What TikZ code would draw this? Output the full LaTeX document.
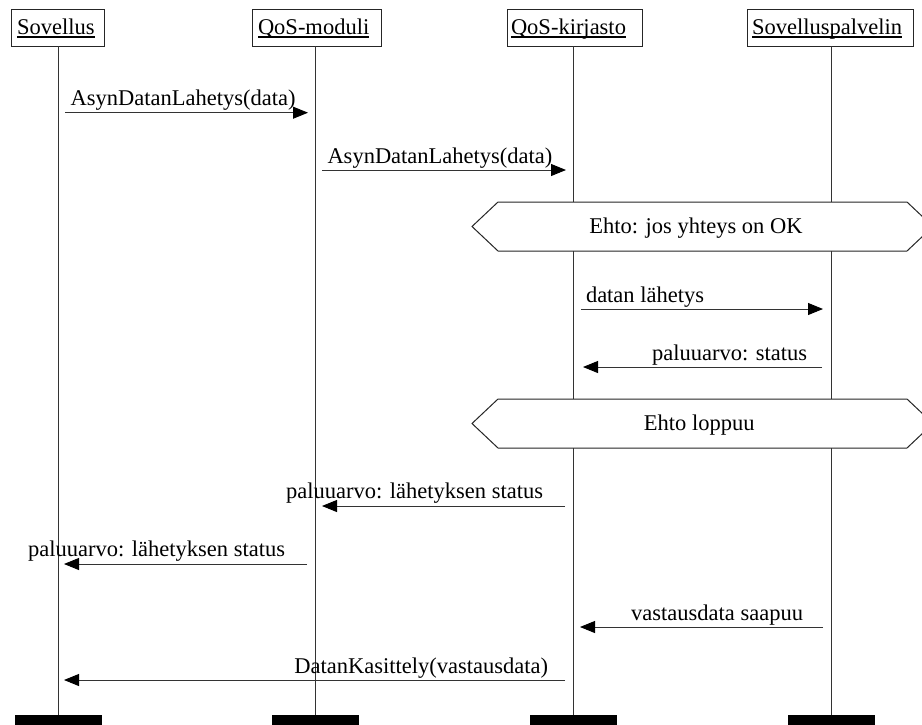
\documentclass[tikz,border=0pt]{standalone}
\usepackage{fontspec}
\setmainfont{Liberation Serif}
\usetikzlibrary{arrows.meta}
\begin{document}
\begin{tikzpicture}[x=1pt,y=-1pt,
  every node/.style={font=\fontsize{22.5}{26}\selectfont, inner sep=0pt, outer sep=0pt},
  hdrbox/.style={draw=black!85, line width=1pt, fill=white, anchor=north west, minimum height=37pt},
  hdrtxt/.style={anchor=base west},
  uline/.style={line width=1.2pt, black},
  life/.style={line width=0.9pt, black!80},
  msg/.style={line width=0.9pt, black!80, -{Triangle[length=15pt,width=12pt,black]}},
  rlbl/.style={anchor=base west},
  llbl/.style={anchor=base east},
  cond/.style={draw=black!85, line width=1pt, fill=white},
  endbar/.style={fill=black, draw=none, anchor=north, minimum width=87pt, minimum height=12pt}
]
\useasboundingbox (0,0) rectangle (922,724);

% header boxes
\node[hdrbox, minimum width=93pt]  (sovbox) at (11,9) {};
\node[hdrbox, minimum width=129pt] (modbox) at (252,9) {};
\node[hdrbox, minimum width=135pt] (kirbox) at (507,9) {};
\node[hdrbox, minimum width=166pt] (palbox) at (747,9) {};
\node[hdrtxt] (sovtxt) at (17,34.3) {Sovellus};
\node[hdrtxt] (modtxt) at (258,34.3) {QoS-moduli};
\node[hdrtxt] (kirtxt) at (511,34.3) {QoS-kirjasto};
\node[hdrtxt] (paltxt) at (752,34.3) {Sovelluspalvelin};
\foreach \t in {sovtxt,modtxt,kirtxt,paltxt}
  \draw[uline] ([yshift=-2.6pt]\t.base west) -- ([yshift=-2.6pt]\t.base east);

% end bars
\node[endbar] (sovend) at (58,715) {};
\node[endbar] (modend) at (315.5,715) {};
\node[endbar] (kirend) at (573.5,715) {};
\node[endbar] (palend) at (831.5,715) {};

% lifelines
\draw[life] (sovbox.south -| sovend.north) -- (sovend.north);
\draw[life] (modbox.south -| modend.north) -- (modend.north);
\draw[life] (kirbox.south -| kirend.north) -- (kirend.north);
\draw[life] (palbox.south -| palend.north) -- (palend.north);

% conditions
\draw[cond] (472,226.5) -- (498,202) -- (907,202) -- (933,226.5) -- (907,251) -- (498,251) -- cycle;
\node[anchor=base] (cond1) at (696,233.3) {Ehto: jos yhteys on OK};
\draw[cond] (472,423.5) -- (498,399) -- (907,399) -- (933,423.5) -- (907,448) -- (498,448) -- cycle;
\node[anchor=base] (cond2) at (699.3,430.7) {Ehto loppuu};

% messages
\coordinate (m1s) at (65,112.7);  \coordinate (m1e) at (308,112.7);
\draw[msg] (m1s) -- (m1e);
\node[rlbl] (m1l) at (70.7,105.5) {AsynDatanLahetys(data)};

\coordinate (m2s) at (322,170);   \coordinate (m2e) at (566,170);
\draw[msg] (m2s) -- (m2e);
\node[rlbl] (m2l) at (327.5,163) {AsynDatanLahetys(data)};

\coordinate (m3s) at (581,309);   \coordinate (m3e) at (823,309);
\draw[msg] (m3s) -- (m3e);
\node[rlbl] (m3l) at (586,302.3) {datan lähetys};

\coordinate (m4s) at (822,367);   \coordinate (m4e) at (583,367);
\draw[msg] (m4s) -- (m4e);
\node[llbl] (m4l) at (807,360) {paluuarvo: status};

\coordinate (m5s) at (565,506);   \coordinate (m5e) at (322,506);
\draw[msg] (m5s) -- (m5e);
\node[llbl] (m5l) at (543,498.5) {paluuarvo: lähetyksen status};

\coordinate (m6s) at (307,564);   \coordinate (m6e) at (64,564);
\draw[msg] (m6s) -- (m6e);
\node[llbl] (m6l) at (285,556.5) {paluuarvo: lähetyksen status};

\coordinate (m7s) at (823,627);   \coordinate (m7e) at (580,627);
\draw[msg] (m7s) -- (m7e);
\node[llbl] (m7l) at (803,620) {vastausdata saapuu};

\coordinate (m8s) at (565,680);   \coordinate (m8e) at (64,680);
\draw[msg] (m8s) -- (m8e);
\node[llbl] (m8l) at (548,673) {DatanKasittely(vastausdata)};
\end{tikzpicture}
\end{document}
